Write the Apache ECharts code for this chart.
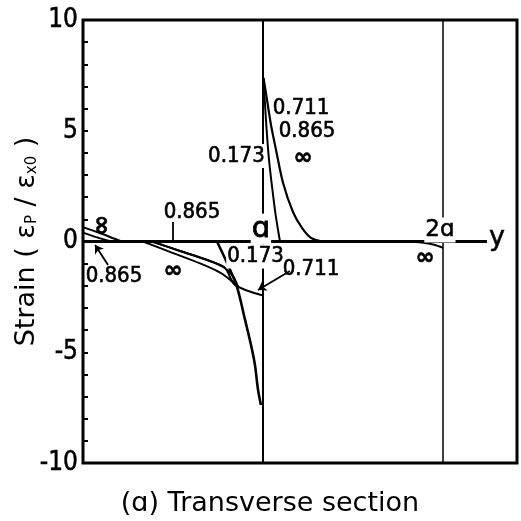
<!DOCTYPE html>
<html>
<head>
<meta charset="utf-8">
<script src="https://cdn.jsdelivr.net/npm/echarts@6/dist/echarts.min.js"></script>
<style>
  html, body { margin: 0; padding: 0; background: #fff; }
  #chart { width: 521px; height: 521px; }
</style>
</head>
<body>
<div id="chart"></div>
<script>
// Distance across the section in units of a (y/a), strain as εP/εx0.

// Tension peak at y = a
const peak0173 = [[1.0023, 7.38], [1.016, 5.49], [1.033, 3.68], [1.066, 1.42], [1.083, 0.52], [1.094, 0]];
const peakUpper = [[1.0023, 7.38], [1.022, 6.39], [1.044, 5.26], [1.072, 4.13], [1.111, 2.64], [1.166, 1.33], [1.216, 0.61], [1.266, 0.16], [1.327, 0]];

// Compression just inside y = a
const comp0173 = [[0.744, 0], [0.800, -0.97], [0.855, -2.05], [0.900, -3.54], [0.933, -4.67], [0.955, -5.58], [0.972, -6.70], [0.988, -7.38]];
const compInf = [[0.333, 0], [0.483, -0.47], [0.650, -0.99], [0.761, -1.40], [0.816, -1.72], [0.861, -2.05]];
const comp0865 = [[0.383, 0], [0.539, -0.43], [0.705, -0.88], [0.789, -1.20], [0.833, -1.56], [0.861, -2.05]];
const comp0711 = [[0.383, 0], [0.539, -0.43], [0.705, -0.88], [0.789, -1.20], [0.844, -1.96], [1.0, -2.44]];

// Near the centre line and near y = 2a
const edgeInf = [[0, 0.65], [0.10, 0.36], [0.20, 0.05], [0.22, 0]];
const edge0865 = [[0, 0.40], [0.10, 0.13], [0.16, 0]];
const farInf = [[1.80, 0], [1.88, -0.05], [1.95, -0.15], [2.0, -0.29]];

// Reference lines
const sectionLines = [1, 2];
const yAxisEnd = 2.243;

// Y-axis ticks
const yMin = -10, yMax = 10, yStep = 5;

// Curve annotations [y/a, strain, text]
const notes = [
  [0.111, 0.74, '∞'],
  [0.172, -1.56, '0.865'],
  [0.605, 1.31, '0.865'],
  [0.500, -1.35, '∞'],
  [0.958, -0.68, '0.173'],
  [1.266, -1.26, '0.711'],
  [0.852, 3.86, '0.173'],
  [1.211, 6.03, '0.711'],
  [1.244, 4.99, '0.865'],
  [1.222, 3.77, '∞'],
  [1.899, -0.745, '∞'],
  [0.988, 0.56, 'ɑ'],
  [1.982, 0.52, '2ɑ'],
  [2.299, 0.16, 'y']
];
// Annotations that sit across a section line and interrupt it
const breaking = [4, 6, 11, 12];

// Leader lines from annotations to curves
const stems = [[[0.5, 0.88], [0.5, 0]]];
const arrows = [
  [[0.139, -1.06], [0.067, -0.16]],
  [[1.149, -1.33], [0.972, -2.19]]
];

const numFont = "'Liberation Sans Narrow', 'DejaVu Sans Condensed', 'Liberation Sans', sans-serif";
const textFont = "'DejaVu Sans', sans-serif";

function curve(name, data, width) {
  return {
    name: name,
    type: 'line',
    data: data,
    showSymbol: false,
    smooth: 0.3,
    lineStyle: { color: '#000', width: width || 2 },
    z: 3
  };
}

function noteItem(n, i) {
  const t = n[2];
  let label = {};
  if (t === 'ɑ') {
    label = { fontFamily: textFont, fontSize: 29, textBorderWidth: 0.8 };
  } else if (t === '2ɑ') {
    label = { fontFamily: textFont, fontSize: 23, textBorderWidth: 0.5 };
  } else if (t === 'y') {
    label = { fontFamily: textFont, fontSize: 27, textBorderWidth: 0.5 };
  } else if (t === '∞') {
    label = { fontFamily: textFont, fontSize: i === 0 ? 25 : 23, fontWeight: 'bold' };
  }
  if (i === 0) label.rotate = 90;
  if (breaking.indexOf(i) >= 0) {
    label.backgroundColor = '#fff';
    label.padding = [1, 1];
  }
  return { value: n, label: label };
}

const chart = echarts.init(document.getElementById('chart'), null, { renderer: 'canvas' });

chart.setOption({
  animation: false,
  backgroundColor: '#fff',
  grid: {
    left: 83, right: 4, top: 20, bottom: 58,
    outerBoundsMode: 'none',
    containLabel: false,
    show: true, borderColor: '#000', borderWidth: 3
  },
  xAxis: {
    type: 'value', min: 0, max: 2.41,
    axisLine: { show: false }, axisTick: { show: false },
    axisLabel: { show: false }, splitLine: { show: false }
  },
  yAxis: {
    type: 'value', min: yMin, max: yMax, interval: yStep,
    axisLine: { show: false },
    axisTick: { show: true, inside: true, length: 5, lineStyle: { color: '#000', width: 2 } },
    minorTick: { show: true, splitNumber: 5, length: 5, lineStyle: { color: '#000', width: 2 } },
    splitLine: { show: false },
    axisLabel: {
      color: '#000', fontSize: 26, fontFamily: numFont, margin: 5,
      textBorderColor: '#000', textBorderWidth: 0.5,
      formatter: v => String(v)
    },
    name: '{t|Strain ( ε}{s|P}{t| / ε}{s|x0}{t| )}',
    nameLocation: 'middle',
    nameRotate: 90,
    nameGap: 43,
    nameMoveOverlap: false,
    nameTextStyle: {
      rich: {
        t: { fontSize: 27, fontFamily: textFont, color: '#000' },
        s: { fontSize: 15, fontFamily: textFont, color: '#000', verticalAlign: 'bottom', padding: [10, 0, 0, 0] }
      }
    }
  },
  series: [
    {
      name: 'guides',
      type: 'line',
      data: [],
      markLine: {
        silent: true,
        symbol: 'none',
        label: { show: false },
        data: [
          { xAxis: sectionLines[0], lineStyle: { color: '#000', width: 2, type: 'solid' } },
          { xAxis: sectionLines[1], lineStyle: { color: '#000', width: 1.5, type: 'solid' } },
          [
            { coord: [0, 0], lineStyle: { color: '#000', width: 3, type: 'solid' } },
            { coord: [yAxisEnd, 0] }
          ]
        ]
      },
      z: 2
    },
    curve('0.173 +', peak0173),
    curve('0.711–∞ +', peakUpper, 2.2),
    curve('0.173 −', comp0173, 2.6),
    curve('∞ −', compInf),
    curve('0.865 −', comp0865),
    curve('0.711 −', comp0711),
    curve('∞ edge', edgeInf),
    curve('0.865 edge', edge0865),
    curve('∞ far', farInf),
    {
      name: 'notes',
      type: 'scatter',
      symbol: 'circle',
      symbolSize: 1,
      itemStyle: { color: 'rgba(0,0,0,0)' },
      data: notes.map(noteItem),
      encode: { x: 0, y: 1 },
      label: {
        show: true,
        position: 'inside',
        formatter: p => p.value[2],
        color: '#000',
        opacity: 1,
        fontSize: 22,
        fontFamily: numFont,
        textBorderColor: '#000',
        textBorderWidth: 0.6
      },
      labelLayout: { hideOverlap: false },
      z: 10
    },
    {
      name: 'stems',
      type: 'lines',
      coordinateSystem: 'cartesian2d',
      symbol: ['none', 'none'],
      lineStyle: { color: '#000', width: 1.8, opacity: 1 },
      data: stems.map(s => ({ coords: s })),
      z: 11
    },
    {
      name: 'arrows',
      type: 'lines',
      coordinateSystem: 'cartesian2d',
      symbol: ['none', 'arrow'],
      symbolSize: 8,
      lineStyle: { color: '#000', width: 1.8, opacity: 1 },
      data: arrows.map(a => ({ coords: a })),
      z: 11
    }
  ],
  graphic: [
    {
      type: 'text',
      x: 270, y: 504,
      style: {
        text: '(ɑ) Transverse section',
        font: "27px 'DejaVu Sans', sans-serif",
        fill: '#000',
        textAlign: 'center',
        textVerticalAlign: 'middle'
      }
    }
  ]
});
</script>
</body>
</html>
